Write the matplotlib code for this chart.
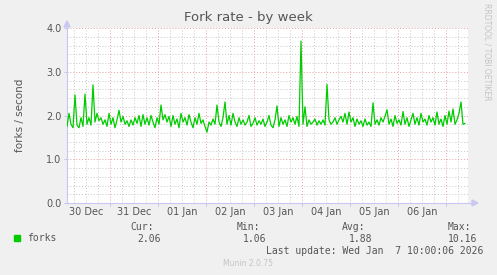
import datetime as dt
import matplotlib
matplotlib.use('Agg')
import matplotlib.pyplot as plt
import matplotlib.dates as mdates
from matplotlib.ticker import MultipleLocator

# fork rate, hourly samples starting 30 Dec 02:30
start = dt.datetime(2025, 12, 30, 2, 30)
forks = [
    1.75, 2.05, 1.80, 1.72, 2.47, 1.78, 1.72, 1.95, 1.75, 2.49, 1.80, 1.95, 1.78, 2.70, 1.85, 2.05, 1.88, 1.95, 1.80, 1.90,
    1.75, 2.05, 1.80, 1.95, 1.72, 1.90, 2.12, 1.85, 1.98, 1.80, 1.88, 1.75, 1.90, 1.78, 1.95, 1.82, 2.00, 1.75, 2.02, 1.80,
    1.95, 1.78, 2.00, 1.85, 1.72, 1.95, 1.80, 2.24, 1.90, 2.02, 1.85, 1.98, 1.75, 2.00, 1.80, 1.92, 1.72, 2.05, 1.85, 1.95,
    1.78, 2.02, 1.85, 1.72, 1.95, 1.80, 2.05, 1.82, 1.90, 1.75, 1.62, 1.85, 1.78, 1.92, 1.80, 2.24, 1.85, 1.75, 1.95, 2.31,
    1.80, 2.00, 1.78, 2.05, 1.85, 1.75, 1.95, 1.80, 1.90, 1.78, 1.85, 2.00, 1.75, 1.82, 1.95, 1.78, 1.88, 1.80, 1.92, 1.75,
    1.85, 2.00, 1.78, 1.72, 1.90, 2.22, 1.75, 1.95, 1.80, 1.90, 1.75, 2.00, 1.85, 1.95, 1.80, 1.98, 1.75, 3.70, 1.80, 2.20,
    1.75, 1.90, 1.80, 1.85, 1.92, 1.78, 1.88, 1.80, 1.90, 1.78, 2.71, 1.90, 1.80, 1.85, 1.95, 1.80, 1.90, 1.98, 1.85, 2.05,
    1.80, 2.08, 1.85, 1.95, 1.75, 1.92, 1.80, 1.88, 1.75, 1.92, 1.78, 1.85, 1.75, 2.29, 1.80, 1.90, 1.78, 1.95, 1.85, 1.98,
    2.13, 1.80, 1.92, 1.75, 2.00, 1.82, 1.90, 1.78, 2.09, 1.80, 1.95, 1.75, 1.90, 2.05, 1.80, 1.95, 1.78, 2.05, 1.85, 1.92,
    1.78, 2.00, 1.85, 1.95, 1.78, 2.08, 1.80, 1.92, 1.75, 2.00, 1.80, 2.10, 1.85, 2.15, 1.80, 1.90, 2.05, 2.31, 1.80, 1.82,
]
times = [start + dt.timedelta(hours=i) for i in range(len(forks))]

legend_heads = ['Cur:', 'Min:', 'Avg:', 'Max:']
legend_vals = ['2.06', '1.06', '1.88', '10.16']

W, H = 497, 275
bg = '#f0f0f0'
txt = '#555555'
axis_col = '#c8c8f0'

fig = plt.figure(figsize=(W / 100, H / 100), dpi=100, facecolor=bg)
ax = fig.add_axes([67 / W, 1 - 203 / H, 401 / W, 175 / H])
ax.set_facecolor('white')

ax.plot(times, forks, color='#00cc00', lw=0.9, zorder=3)

ax.set_xlim(dt.datetime(2025, 12, 30, 2, 30), dt.datetime(2026, 1, 7, 11, 0))
ax.set_ylim(0, 4)

# grid: minor gray, major red-ish, dotted
ax.xaxis.set_major_locator(mdates.DayLocator())
ax.xaxis.set_minor_locator(mdates.HourLocator(byhour=[6, 12, 18]))
ax.yaxis.set_major_locator(MultipleLocator(1.0))
ax.yaxis.set_minor_locator(MultipleLocator(0.2))
ax.grid(which='minor', color='#c8c8c8', ls=(0, (1, 2)), lw=0.7, zorder=1)
ax.grid(which='major', color='#e4a0a0', ls=(0, (1, 2)), lw=0.7, zorder=2)

ax.xaxis.set_major_formatter(plt.NullFormatter())
ax.yaxis.set_major_formatter(plt.FuncFormatter(lambda v, p: '%.1f' % v))
ax.tick_params(which='major', length=2, color=axis_col, labelsize=7, labelcolor=txt, pad=2)
ax.tick_params(which='minor', length=0)

# day labels at noon
for d in range(30, 38):
    day = dt.datetime(2025, 12, d, 12) if d <= 31 else dt.datetime(2026, 1, d - 31, 12)
    ax.text(day, -0.2, day.strftime('%d %b'), ha='center', va='center', fontsize=7, color=txt, clip_on=False)

for s in ['top', 'right']:
    ax.spines[s].set_visible(False)
for s in ['left', 'bottom']:
    ax.spines[s].set_color(axis_col)
    ax.spines[s].set_linewidth(0.8)

# axis arrows
fig.patches.append(plt.Polygon([[64 / W, 1 - 27 / H], [70 / W, 1 - 27 / H], [67 / W, 1 - 21 / H]],
                               closed=True, color=axis_col, transform=fig.transFigure))
fig.lines.append(plt.Line2D([468 / W, 472 / W], [1 - 203 / H, 1 - 203 / H], color=axis_col, lw=0.8,
                            transform=fig.transFigure))
fig.patches.append(plt.Polygon([[472 / W, 1 - 200 / H], [472 / W, 1 - 206 / H], [478 / W, 1 - 203 / H]],
                               closed=True, color=axis_col, transform=fig.transFigure))

fig.text(248 / W, 1 - 18 / H, 'Fork rate - by week', ha='center', va='center', fontsize=9.5, color=txt)
fig.text(20 / W, 1 - 115 / H, 'forks / second', rotation=90, ha='center', va='center', fontsize=7.5, color=txt)
fig.text(487 / W, 1 - 52 / H, 'RRDTOOL / TOBI OETIKER', rotation=270, ha='center', va='center',
         fontsize=5.5, color='#c4c4c4')

# legend
fig.patches.append(plt.Rectangle((14 / W, 1 - 241 / H), 6 / W, 6 / H, color='#00cc00',
                                 transform=fig.transFigure))
mono = 'DejaVu Sans Mono'
fig.text(27 / W, 1 - 238 / H, 'forks', ha='left', va='center', fontsize=7, color=txt, family=mono)
head_x = [154, 260, 365, 471]
val_x = [161, 266, 372, 477]
for hx, vx, h, v in zip(head_x, val_x, legend_heads, legend_vals):
    fig.text(hx / W, 1 - 227 / H, h, ha='right', va='center', fontsize=7, color=txt, family=mono)
    fig.text(vx / W, 1 - 239 / H, v, ha='right', va='center', fontsize=7, color=txt, family=mono)
fig.text(483 / W, 1 - 251 / H, 'Last update: Wed Jan  7 10:00:06 2026', ha='right', va='center',
         fontsize=7, color=txt, family=mono)
fig.text(248 / W, 1 - 264 / H, 'Munin 2.0.75', ha='center', va='center', fontsize=5.5, color='#c4c4c4')

fig.savefig('out.png', dpi=100, facecolor=bg)
